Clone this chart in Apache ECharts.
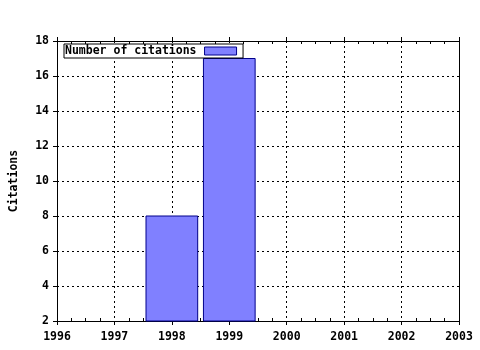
<!DOCTYPE html>
<html><head><meta charset="utf-8">
<script src="https://cdn.jsdelivr.net/npm/echarts@6/dist/echarts.min.js"></script>
<style>html,body{margin:0;padding:0;background:#fff}#c{width:480px;height:350px}</style>
</head><body><div id="c"></div>
<script>
const years = [1998, 1999];
const citations = [8, 17];
const seriesName = 'Number of citations';
const yAxisName = 'Citations';
const xMin = 1996, xMax = 2003;
const yMin = 2, yMax = 18, yStep = 2;
const barWidthYears = 0.9;

const font = {fontFamily: 'DejaVu Sans Mono', fontWeight: 'bold', fontSize: 11.5, color: '#000'};
const blackLine = {color: '#000', width: 1};

const chart = echarts.init(document.getElementById('c'));
const baseX = {type: 'value', min: xMin, max: xMax, interval: 1, gridIndex: 0};
chart.setOption({
  animation: false,
  backgroundColor: '#fff',
  grid: {left: 57, right: 21, top: 41, bottom: 29, containLabel: false},
  legend: {
    left: 64, top: 44, orient: 'horizontal', align: 'right',
    backgroundColor: '#fff', borderColor: '#000', borderWidth: 1, borderRadius: 0,
    padding: [1, 6, 1, 1], itemWidth: 32, itemHeight: 8, itemGap: 0,
    textStyle: Object.assign({}, font, {padding: [0, 3, 0, 0]}),
    data: [{name: seriesName, icon: 'rect',
            itemStyle: {color: '#8080ff', borderColor: '#00008b', borderWidth: 1}}]
  },
  xAxis: [
    Object.assign({}, baseX, {
      position: 'bottom',
      axisLine: {show: true, onZero: false, lineStyle: blackLine},
      axisTick: {show: true, length: 4, lineStyle: blackLine},
      axisLabel: Object.assign({}, font, {margin: 10, formatter: v => String(v)}),
      splitLine: {show: true, lineStyle: {color: '#000', type: [2, 3], width: 1}},
      minorTick: {show: false}
    }),
    Object.assign({}, baseX, {
      position: 'bottom',
      axisLine: {show: false},
      axisTick: {show: false, inside: true},
      axisLabel: {show: false},
      splitLine: {show: false},
      minorTick: {show: true, splitNumber: 4, length: 3, lineStyle: blackLine}
    }),
    Object.assign({}, baseX, {
      position: 'top',
      axisLine: {show: true, onZero: false, lineStyle: blackLine},
      axisTick: {show: true, length: 4, lineStyle: blackLine},
      axisLabel: {show: false},
      splitLine: {show: false}
    }),
    Object.assign({}, baseX, {
      position: 'top',
      axisLine: {show: false},
      axisTick: {show: false, inside: true},
      axisLabel: {show: false},
      splitLine: {show: false},
      minorTick: {show: true, splitNumber: 4, length: 3, lineStyle: blackLine}
    })
  ],
  yAxis: [
    {
      type: 'value', min: yMin, max: yMax, interval: yStep, position: 'left',
      name: yAxisName, nameLocation: 'middle', nameGap: 37, nameRotate: 90,
      nameTextStyle: font,
      axisLine: {show: true, onZero: false, lineStyle: blackLine},
      axisTick: {show: true, length: 4, lineStyle: blackLine},
      axisLabel: Object.assign({}, font, {margin: 8}),
      splitLine: {show: true, lineStyle: {color: '#000', type: [2, 3], width: 1}}
    },
    {
      type: 'value', min: yMin, max: yMax, interval: yStep, position: 'right',
      axisLine: {show: true, onZero: false, lineStyle: blackLine},
      axisTick: {show: false}, axisLabel: {show: false}, splitLine: {show: false}
    }
  ],
  series: [{
    name: seriesName,
    type: 'custom',
    xAxisIndex: 0, yAxisIndex: 0,
    itemStyle: {color: '#8080ff', borderColor: '#00008b', borderWidth: 1},
    data: years.map((y, i) => [y, citations[i]]),
    encode: {x: 0, y: 1},
    renderItem: function (params, api) {
      const x = api.value(0), v = api.value(1);
      const p0 = api.coord([x - barWidthYears / 2, v]);
      const p1 = api.coord([x + barWidthYears / 2, yMin]);
      return {
        type: 'rect',
        shape: {x: p0[0], y: p0[1], width: p1[0] - p0[0], height: p1[1] - p0[1]},
        style: {fill: '#8080ff', stroke: '#00008b', lineWidth: 1}
      };
    }
  }]
});
</script></body></html>
